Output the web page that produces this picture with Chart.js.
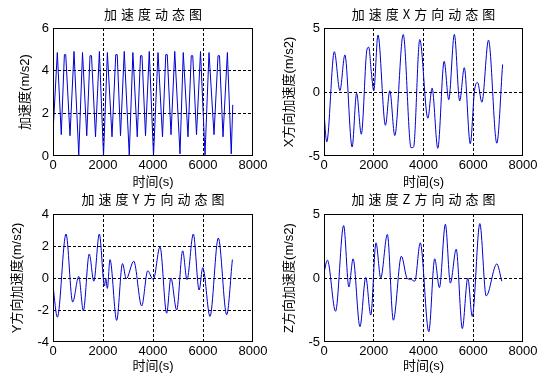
<!DOCTYPE html>
<html><head><meta charset="utf-8">
<script src="https://cdn.jsdelivr.net/npm/chart.js@4.4.1/dist/chart.umd.min.js"></script>
<style>
html,body{margin:0;padding:0;background:#fff;}
#wrap{position:relative;width:552px;height:382px;overflow:hidden;background:#fff;}
canvas{position:absolute;}
</style></head><body>
<div id="wrap">
<canvas id="c1" width="276" height="191" style="left:0px;top:0px"></canvas>
<canvas id="c2" width="276" height="191" style="left:276px;top:0px"></canvas>
<canvas id="c3" width="276" height="191" style="left:0px;top:191px"></canvas>
<canvas id="c4" width="276" height="191" style="left:276px;top:191px"></canvas>
</div>
<script>
// ---------- data (time in s, acceleration in m/s2) ----------
const xTickValues = [0, 2000, 4000, 6000, 8000];

const accTime = [0, 173, 330, 455, 510, 680, 840, 1030, 1180, 1350, 1480, 1540, 1700, 1855, 2020, 2175, 2360, 2510, 2570, 2700, 2850, 3050, 3195, 3370, 3500, 3560, 3700, 3850, 4020, 4200, 4380, 4510, 4570, 4720, 4870, 5080, 5210, 5400, 5530, 5590, 5740, 5900, 6080, 6240, 6440, 6600, 6660, 6800, 6975, 7130, 7190];
const accValue = [1.1, 4.85, 1.0, 4.75, 4.75, 0.95, 4.9, 0.05, 4.85, 0.95, 4.7, 4.7, 0.9, 4.9, 0.0, 4.85, 0.9, 4.75, 4.75, 0.95, 4.9, 0.05, 4.85, 0.9, 4.7, 4.7, 0.95, 4.9, 0.0, 4.85, 0.9, 4.75, 4.75, 1.0, 4.9, 0.1, 4.85, 0.9, 4.7, 4.7, 1.0, 4.9, 0.05, 4.85, 1.0, 4.7, 4.7, 0.9, 4.85, 0.1, 2.4];

const xTime = [0, 110, 415, 640, 840, 1130, 1310, 1500, 1730, 1800, 1900, 2000, 2170, 2470, 2645, 2845, 3185, 3500, 3600, 3850, 4175, 4345, 4575, 4830, 5015, 5240, 5455, 5640, 5880, 6050, 6173, 6347, 6613, 6947, 7180];
const xValue = [-1.6, -3.9, 3.15, 0.1, 2.9, -4.3, -0.1, -3.3, 3.35, 3.5, 1.6, 0.1, 4.45, -2.6, 0.1, -3.4, 4.5, -4.35, -4.3, 4.1, -2.05, 0.3, -4.4, 2.4, -0.6, 4.5, -0.7, 1.9, -4.05, 0.1, 0.75, -0.8, 4.05, -4.0, 2.15];

const yTime = [0, 175, 520, 787, 1030, 1213, 1450, 1633, 1853, 2060, 2110, 2173, 2280, 2547, 2780, 2930, 3230, 3547, 3790, 3950, 4013, 4280, 4547, 4715, 4947, 5187, 5360, 5613, 5845, 5990, 6040, 6280, 6613, 6947, 7175];
const yValue = [-0.5, -2.45, 2.75, -1.5, 0.1, -2.05, 1.5, -0.2, 2.75, -0.5, 0.0, -0.65, 1.15, -2.65, 0.9, -0.05, 1.05, -1.75, 0.45, 0.0, -0.1, 1.95, -2.2, 0.0, -2.0, 1.7, -0.1, 2.75, -0.75, 0.65, 0.4, -2.4, 2.5, -2.3, 1.15];

const zTime = [0, 135, 465, 790, 1000, 1170, 1445, 1680, 1880, 2090, 2280, 2547, 2787, 3110, 3350, 3480, 3650, 3870, 4213, 4450, 4640, 4880, 5080, 5315, 5560, 5780, 5960, 6265, 6520, 6947, 7147];
const zValue = [0.4, 1.4, -2.6, 4.1, -0.7, 1.5, -3.8, 0.05, -2.9, 2.75, 0.0, 3.4, -3.3, 1.7, -0.05, -0.1, -0.25, 2.75, -4.2, 1.5, -0.75, 4.2, -0.4, 2.25, -3.95, 0.0, -3.0, 4.25, -1.4, 1.1, -0.25];

const titles = ['加速度动态图', '加速度X方向动态图', '加速度Y方向动态图', '加速度Z方向动态图'];
const yLabels = ['加速度(m/s2)', 'X方向加速度(m/s2)', 'Y方向加速度(m/s2)', 'Z方向加速度(m/s2)'];
const xLabel = '时间(s)';
const yTicks1 = [0, 2, 4, 6];
const yTicks2 = [-5, 0, 5];
const yTicks3 = [-4, -2, 0, 2, 4];
const yTicks4 = [-5, 0, 5];

// ---------- drawing ----------
const FONT = "'Liberation Sans', 'Noto Sans CJK SC', sans-serif";
const boxPlugin = {
  id: 'mbox',
  afterDraw(chart, args, opts) {
    const a = chart.chartArea, ctx = chart.ctx;
    ctx.save();
    ctx.strokeStyle = '#000';
    ctx.lineWidth = 1;
    ctx.setLineDash([]);
    ctx.strokeRect(Math.round(a.left) + 0.5, Math.round(a.top) + 0.5,
                   Math.round(a.right - a.left) - 1, Math.round(a.bottom - a.top) - 1);
    // title
    ctx.fillStyle = '#000';
    ctx.font = "13px 'Noto Sans CJK SC', sans-serif";
    ctx.textAlign = 'center';
    ctx.textBaseline = 'middle';
    const sp = 4;
    try { ctx.letterSpacing = sp + 'px'; } catch (e) {}
    ctx.fillText(opts.text, (a.left + a.right) / 2 + sp / 2, opts.y);
    ctx.restore();
  }
};

function build(id, p) {
  const yW = p.area.l - p.cx;
  const xH = p.cy + p.h - p.area.b;
  const gridColor = (c) => {
    const n = c.scale.ticks.length;
    return (c.index === 0 || c.index === n - 1) ? 'rgba(0,0,0,0)' : '#000';
  };
  new Chart(document.getElementById(id), {
    type: 'line',
    data: {
      datasets: [{
        data: p.t.map((x, i) => ({ x: x, y: p.v[i] })),
        borderColor: '#0000d0',
        borderWidth: 1,
        pointRadius: 0,
        fill: false,
        tension: 0,
        cubicInterpolationMode: p.mono ? 'monotone' : 'default'
      }]
    },
    options: {
      responsive: false,
      animation: false,
      events: [],
      layout: { padding: { left: 0, right: p.cx + p.w - p.area.r, top: p.area.t - p.cy, bottom: 0 } },
      plugins: {
        legend: { display: false },
        title: { display: false },
        tooltip: { enabled: false },
        mbox: { text: p.title, y: p.titleY - p.cy }
      },
      scales: {
        x: {
          type: 'linear', min: 0, max: 8000,
          afterBuildTicks: (s) => { s.ticks = xTickValues.map(v => ({ value: v })); },
          afterFit: (s) => { s.height = xH; },
          ticks: { color: '#000', font: { size: 13, family: FONT }, padding: 2, maxRotation: 0, autoSkip: false,
                   callback: (v) => String(v) },
          grid: { color: gridColor, lineWidth: 1, drawTicks: false },
          border: { display: false, dash: [3, 2] },
          title: { display: true, text: xLabel, color: '#000', font: { size: 13, family: FONT },
                   padding: { top: 0, bottom: (p.cy + p.h - p.xTitleY) - 7.8 } }
        },
        y: {
          type: 'linear', min: p.yTicks[0], max: p.yTicks[p.yTicks.length - 1],
          afterBuildTicks: (s) => { s.ticks = p.yTicks.map(v => ({ value: v })); },
          afterFit: (s) => { s.width = yW; },
          ticks: { color: '#000', font: { size: 13, family: FONT }, padding: 4, autoSkip: false,
                   callback: (v) => String(v) },
          grid: { color: gridColor, lineWidth: 1, drawTicks: false },
          border: { display: false, dash: [3, 2] },
          title: { display: true, text: p.ylabel, color: '#000', font: { size: 13, family: FONT },
                   padding: { top: (p.yTitleX - p.cx) - 7.8, bottom: 0 } }
        }
      }
    },
    plugins: [boxPlugin]
  });
}

build('c1', { cx: 0, cy: 0, w: 276, h: 191, area: { l: 53, r: 253, t: 28, b: 156 },
  title: titles[0], titleY: 14, ylabel: yLabels[0], yTitleX: 25, xTitleY: 182.7,
  yTicks: yTicks1, t: accTime, v: accValue, mono: false });
build('c2', { cx: 276, cy: 0, w: 276, h: 191, area: { l: 324, r: 523, t: 28, b: 156 },
  title: titles[1], titleY: 14, ylabel: yLabels[1], yTitleX: 289.5, xTitleY: 182.7,
  yTicks: yTicks2, t: xTime, v: xValue, mono: true });
build('c3', { cx: 0, cy: 191, w: 276, h: 191, area: { l: 53, r: 253, t: 214, b: 342 },
  title: titles[2], titleY: 199.5, ylabel: yLabels[2], yTitleX: 17.5, xTitleY: 366.7,
  yTicks: yTicks3, t: yTime, v: yValue, mono: true });
build('c4', { cx: 276, cy: 191, w: 276, h: 191, area: { l: 324, r: 523, t: 214, b: 342 },
  title: titles[3], titleY: 199.5, ylabel: yLabels[3], yTitleX: 289.5, xTitleY: 366.7,
  yTicks: yTicks4, t: zTime, v: zValue, mono: true });
</script>
</body></html>
